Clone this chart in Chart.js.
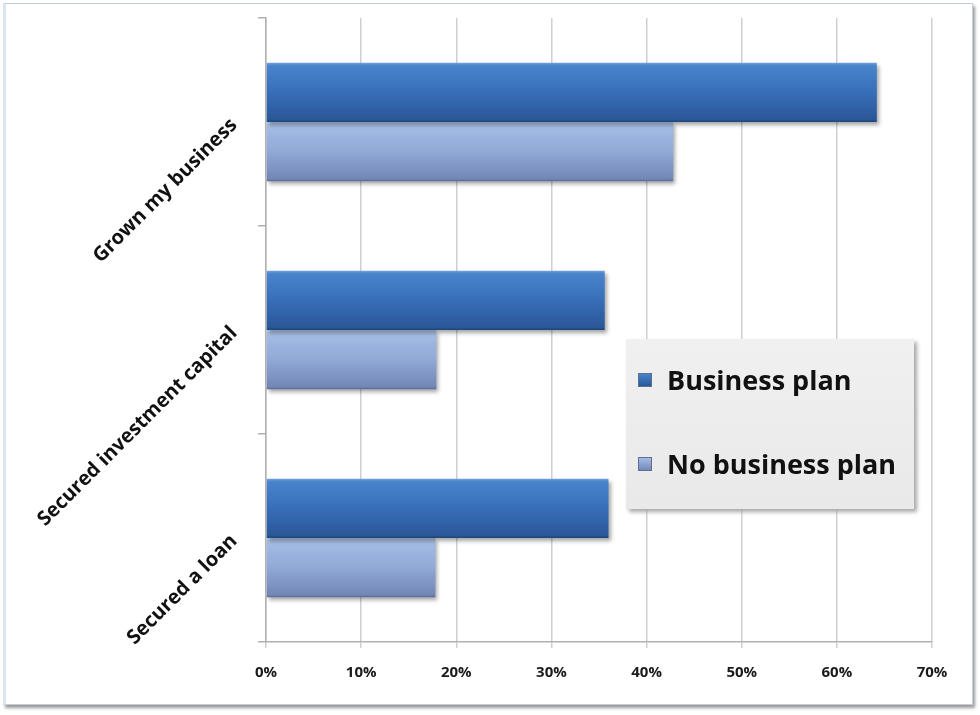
<!DOCTYPE html>
<html>
<head>
<meta charset="utf-8">
<script src="https://cdn.jsdelivr.net/npm/chart.js@4/dist/chart.umd.min.js"></script>
<style>
    body { margin: 0; background: #ffffff; }
    .wrap { position: relative; width: 980px; height: 715px; overflow: hidden; }
    .frame {
        position: absolute; left: 3px; top: 3px; width: 966px; height: 700px;
        border: 1px solid #c5ced8; border-left: 3px solid #dbe6f1;
        box-shadow: 2px 3px 3px #9a9a9a;
        background: #ffffff;
    }
    #chart { position: absolute; left: 0; top: 0; }
    .legend {
        position: absolute; left: 626px; top: 339px; width: 288px; height: 170px;
        background: linear-gradient(#f0f0f0, #e9e9e9);
        box-shadow: 3px 3px 4px #a8a8a8;
        font-family: "Open Sans", sans-serif; font-size: 27px; font-weight: bold; color: #111;
    }
    .legend .item { position: absolute; left: 12px; display: flex; align-items: center; white-space: nowrap; }
    .legend .box { width: 14px; height: 14px; margin-right: 15px; border: 1px solid #5d6f90; box-sizing: border-box; }
</style>
</head>
<body>
<div class="wrap">
    <div class="frame"></div>
    <canvas id="chart" width="980" height="715"></canvas>
    <div class="legend" id="legend"></div>
</div>
<script>
// Chart data
const categories = ['Grown my business', 'Secured investment capital', 'Secured a loan'];
const businessPlan = [64.2, 35.6, 36.0];
const noBusinessPlan = [42.8, 17.9, 17.8];
const seriesNames = ['Business plan', 'No business plan'];
const xMin = 0;
const xMax = 70;
const xStep = 10;

// Gradient stops for the bevelled bar look
const darkStops = [[0, '#72a3df'], [0.05, '#4884cc'], [0.5, '#386eb8'], [0.95, '#2a5898'], [1, '#1d447c']];
const lightStops = [[0, '#c6d8f1'], [0.05, '#a5bee6'], [0.5, '#90a9d6'], [0.95, '#7488b6'], [1, '#5c6e95']];

// Paint each bar with its own vertical gradient and a soft shadow
const barStyle = {
    id: 'barStyle',
    beforeDatasetsDraw(chart) {
        const ctx = chart.ctx;
        chart.data.datasets.forEach((ds, i) => {
            const meta = chart.getDatasetMeta(i);
            meta.data.forEach(bar => {
                const top = bar.y - bar.height / 2;
                const g = ctx.createLinearGradient(0, top, 0, top + bar.height);
                ds.stops.forEach(s => g.addColorStop(s[0], s[1]));
                bar.options = Object.assign({}, bar.options, { backgroundColor: g });
            });
        });
        ctx.save();
        ctx.shadowColor = 'rgba(0, 0, 0, 0.35)';
        ctx.shadowBlur = 4;
        ctx.shadowOffsetX = 2;
        ctx.shadowOffsetY = 3;
    },
    afterDatasetsDraw(chart) {
        chart.ctx.restore();
    }
};

const chart = new Chart(document.getElementById('chart'), {
    type: 'bar',
    data: {
        labels: categories,
        datasets: [
            {
                label: seriesNames[0],
                data: businessPlan,
                backgroundColor: '#386eb8',
                stops: darkStops,
                legendColor: 'linear-gradient(#4884cc, #2a5898)'
            },
            {
                label: seriesNames[1],
                data: noBusinessPlan,
                backgroundColor: '#90a9d6',
                stops: lightStops,
                legendColor: 'linear-gradient(#a5bee6, #7488b6)'
            }
        ]
    },
    options: {
        indexAxis: 'y',
        responsive: false,
        animation: false,
        categoryPercentage: 0.57,
        barPercentage: 1.0,
        layout: { padding: { top: 18, right: 48, left: 0, bottom: 0 } },
        plugins: {
            legend: { display: false },
            tooltip: { enabled: false }
        },
        scales: {
            x: {
                min: xMin,
                max: xMax,
                afterFit(scale) { scale.height = 73; },
                ticks: {
                    stepSize: xStep,
                    padding: 16,
                    color: '#1a1a1a',
                    font: { family: 'Open Sans', size: 15, weight: 'bold' },
                    callback: v => v + '%'
                },
                grid: { color: '#cfcfcf', lineWidth: 1.5, tickLength: 6 },
                border: { color: '#b0b0b0', width: 1.5 }
            },
            y: {
                afterFit(scale) {
                    scale.width = 266;
                    scale.paddingTop = 0;
                    scale.paddingBottom = 0;
                },
                ticks: {
                    minRotation: 45,
                    maxRotation: 45,
                    padding: 24,
                    color: '#111',
                    font: { family: 'Open Sans', size: 20, weight: 'bold' }
                },
                grid: { drawOnChartArea: false, color: '#b0b0b0', tickLength: 8, lineWidth: 1.5 },
                border: { color: '#b0b0b0', width: 1.5 }
            }
        }
    },
    plugins: [barStyle]
});

// Legend floats inside the plot, built from the datasets
const legend = document.getElementById('legend');
chart.data.datasets.forEach((ds, i) => {
    const item = document.createElement('div');
    item.className = 'item';
    item.style.top = (i === 0 ? 22 : 106) + 'px';
    item.innerHTML = `<span class="box" style="background:${ds.legendColor}"></span><span>${ds.label}</span>`;
    legend.appendChild(item);
});
</script>
</body>
</html>
